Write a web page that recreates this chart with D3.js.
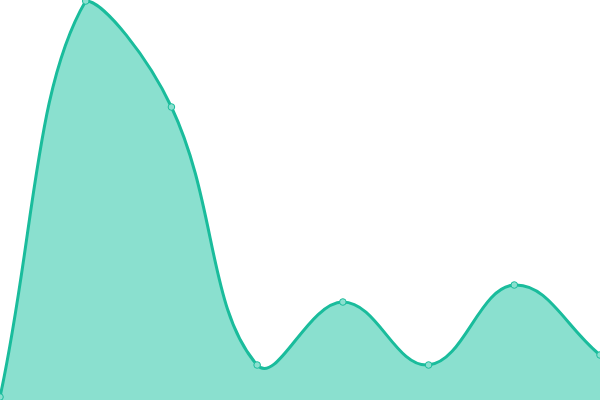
<!DOCTYPE html>
<html><head><meta charset="utf-8">
<script src="https://cdn.jsdelivr.net/npm/d3@7"></script>
<style>html,body{margin:0;padding:0;background:#fff;overflow:hidden}</style>
</head><body>
<svg id="c" width="600" height="400"></svg>
<script>
const categories = [0, 1, 2, 3, 4, 5, 6, 7];
const values = [3, 399, 293, 35, 98, 35, 115, 45];

const W = 600, H = 400;
const svg = d3.select("#c");
const x = d3.scalePoint().domain(categories).range([0, W]);
const y = d3.scaleLinear().domain([0, 400]).range([H, 0]);
const data = categories.map((c, i) => ({c, v: values[i]}));

// Spline curve (distance-weighted tangents, control points capped to plot area)
function makeSpline(tension, x0, y0, x1, y1) {
  function Spline(context) { this._context = context; }
  Spline.prototype = {
    areaStart() {}, areaEnd() {},
    lineStart() { this._pts = []; },
    point(px, py) { this._pts.push([+px, +py]); },
    lineEnd() {
      const p = this._pts, n = p.length, c = this._context;
      if (!n) return;
      const clampX = v => Math.max(x0, Math.min(x1, v));
      const clampY = v => Math.max(y0, Math.min(y1, v));
      const cps = p.map((cur, i) => {
        const prev = p[Math.max(0, i - 1)], next = p[Math.min(n - 1, i + 1)];
        const d01 = Math.hypot(cur[0] - prev[0], cur[1] - prev[1]);
        const d12 = Math.hypot(next[0] - cur[0], next[1] - cur[1]);
        let s01 = d01 / (d01 + d12), s12 = d12 / (d01 + d12);
        if (isNaN(s01)) s01 = 0; if (isNaN(s12)) s12 = 0;
        const fa = tension * s01, fb = tension * s12;
        const dx = next[0] - prev[0], dy = next[1] - prev[1];
        return {
          px: clampX(cur[0] - fa * dx), py: clampY(cur[1] - fa * dy),
          nx: clampX(cur[0] + fb * dx), ny: clampY(cur[1] + fb * dy)
        };
      });
      c.moveTo(p[0][0], p[0][1]);
      for (let i = 1; i < n; i++) {
        c.bezierCurveTo(cps[i-1].nx, cps[i-1].ny, cps[i].px, cps[i].py, p[i][0], p[i][1]);
      }
    }
  };
  return ctx => new Spline(ctx);
}
const curve = makeSpline(0.4, 0, 0, W, H);

const line = d3.line().x(d => x(d.c)).y(d => y(d.v)).curve(curve);
const first = data[0], last = data[data.length - 1];
svg.append("path")
  .attr("d", line(data) + `L${x(last.c)},${H}L${x(first.c)},${H}Z`)
  .attr("fill", "#8ae0cf");
svg.append("path").attr("d", line(data))
  .attr("fill", "none").attr("stroke", "#1abc9c").attr("stroke-width", 3);
svg.selectAll("circle").data(data).enter().append("circle")
  .attr("cx", d => x(d.c)).attr("cy", d => y(d.v)).attr("r", 3.3)
  .attr("fill", "#8ae0cf").attr("stroke", "#1abc9c").attr("stroke-width", 1);
</script>
</body></html>
